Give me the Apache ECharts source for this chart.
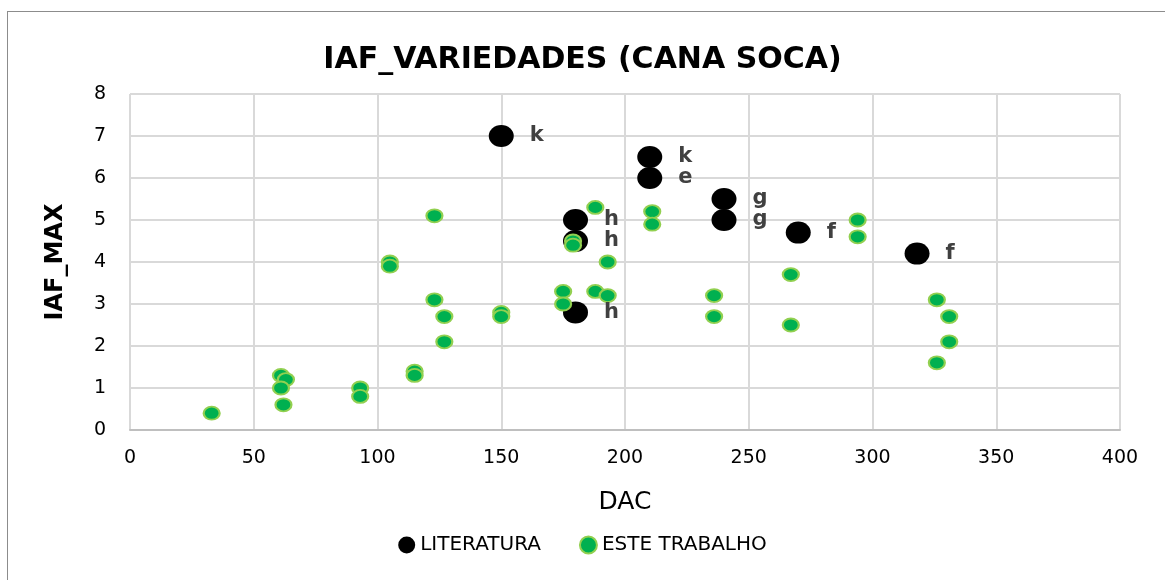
<!DOCTYPE html>
<html>
<head>
<meta charset="utf-8">
<script src="https://cdn.jsdelivr.net/npm/echarts@6/dist/echarts.min.js"></script>
<style>
  html, body { margin: 0; padding: 0; background: #fff; }
  #frame { position: absolute; left: 7px; top: 11px; width: 1170px; height: 580px; border: 1px solid #8c8c8c; }
  #main { position: absolute; left: 0; top: 0; width: 1165px; height: 580px; }
</style>
</head>
<body>
<div id="frame"></div>
<div id="main"></div>
<script>
// LITERATURA: [DAC, IAF_MAX]
var literaturaDac = [150, 210, 210, 240, 240, 270, 180, 180, 180, 318];
var literaturaIaf = [7.0, 6.5, 6.0, 5.5, 5.0, 4.7, 5.0, 4.5, 2.8, 4.2];
var literaturaRef = ['k', 'k', 'e', 'g', 'g', 'f', 'h', 'h', 'h', 'f'];

// ESTE TRABALHO
var trabalhoDac = [33, 61, 63, 61, 62, 93, 93, 105, 105, 115, 115, 123, 123, 127, 127,
  150, 150, 175, 175, 179, 179, 188, 188, 193, 193, 211, 211, 236, 236, 267, 267,
  294, 294, 326, 326, 331, 331];
var trabalhoIaf = [0.4, 1.3, 1.2, 1.0, 0.6, 1.0, 0.8, 4.0, 3.9, 1.4, 1.3, 5.1, 3.1, 2.7, 2.1,
  2.8, 2.7, 3.3, 3.0, 4.5, 4.4, 5.3, 3.3, 4.0, 3.2, 5.2, 4.9, 3.2, 2.7, 3.7, 2.5,
  5.0, 4.6, 3.1, 1.6, 2.7, 2.1];

var fontFam = '"DejaVu Sans", "Open Sans", sans-serif';

var litData = literaturaDac.map(function (d, i) {
  return { value: [d, literaturaIaf[i]], ref: literaturaRef[i] };
});
var trabData = trabalhoDac.map(function (d, i) {
  return [d, trabalhoIaf[i]];
});

var chart = echarts.init(document.getElementById('main'));
var option = {
  animation: false,
  title: {
    text: 'IAF_VARIEDADES (CANA SOCA)',
    left: 'center',
    top: 40,
    textStyle: { fontFamily: fontFam, fontSize: 30, fontWeight: 'bold', color: '#000' }
  },
  legend: {
    bottom: 20,
    left: 'center',
    itemGap: 38,
    itemWidth: 17,
    itemHeight: 17,
    textStyle: { fontFamily: fontFam, fontSize: 20, color: '#000' },
    data: [
      { name: 'LITERATURA', icon: 'circle' },
      { name: 'ESTE TRABALHO', icon: 'circle' }
    ]
  },
  grid: { left: 130, right: 45, top: 94, bottom: 150 },
  xAxis: {
    type: 'value',
    min: 0,
    max: 400,
    interval: 50,
    name: 'DAC',
    nameLocation: 'middle',
    nameGap: 60,
    nameTextStyle: { fontFamily: fontFam, fontSize: 25, color: '#000' },
    axisLine: { lineStyle: { color: '#bfbfbf', width: 2 } },
    axisTick: { show: false },
    axisLabel: { fontFamily: fontFam, fontSize: 19, color: '#000', margin: 19 },
    splitLine: { lineStyle: { color: '#d9d9d9', width: 2 } }
  },
  yAxis: {
    type: 'value',
    min: 0,
    max: 8,
    interval: 1,
    name: 'IAF_MAX',
    nameLocation: 'middle',
    nameGap: 62,
    nameTextStyle: { fontFamily: fontFam, fontSize: 24, fontWeight: 'bold', color: '#000' },
    axisLine: { show: false },
    axisTick: { show: false },
    axisLabel: { fontFamily: fontFam, fontSize: 19, color: '#000', margin: 24 },
    splitLine: { lineStyle: { color: '#d9d9d9', width: 2 } }
  },
  series: [
    {
      name: 'LITERATURA',
      type: 'scatter',
      symbol: 'circle',
      symbolSize: [25, 22],
      itemStyle: { color: '#000', opacity: 1 },
      label: {
        show: true,
        position: 'right',
        distance: 16,
        formatter: function (p) { return p.data.ref; },
        fontFamily: fontFam,
        fontSize: 21,
        fontWeight: 'bold',
        color: '#404040'
      },
      data: litData
    },
    {
      name: 'ESTE TRABALHO',
      type: 'scatter',
      symbol: 'circle',
      symbolSize: [16, 13],
      itemStyle: { color: '#00b050', borderColor: '#92d050', borderWidth: 2, opacity: 1 },
      data: trabData
    }
  ]
};
chart.setOption(option);
</script>
</body>
</html>
